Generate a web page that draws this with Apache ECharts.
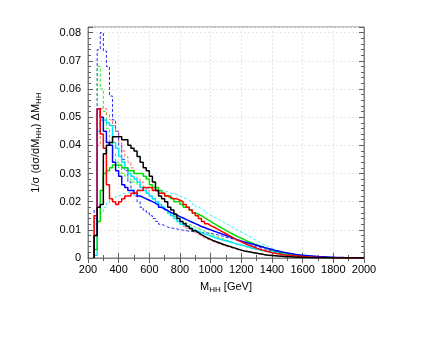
<!DOCTYPE html>
<html><head><meta charset="utf-8">
<script src="https://cdn.jsdelivr.net/npm/echarts@6/dist/echarts.min.js"></script>
<style>html,body{margin:0;padding:0;background:#fff}#c{width:436px;height:337px}</style>
</head><body><div id="c"></div>
<script>
// Histogram bins: lower edge 240 GeV, width 20 GeV, 88 bins up to 2000 GeV
const binStart = 240;
const binWidth = 20;
const xTicks = [200,400,600,800,1000,1200,1400,1600,1800,2000];
const yTicks = [0,0.01,0.02,0.03,0.04,0.05,0.06,0.07,0.08];

const blackSolid = [
0.008,0.018,0.019,0.037,0.040,0.041,0.043,0.043,0.043,0.042,
0.042,0.040,0.039,0.038,0.036,0.034,0.032,0.031,0.029,0.027,
0.024,0.022,0.021,0.020,0.018,0.017,0.0155,0.014,0.013,0.0122,
0.0113,0.0105,0.0097,0.009,0.0083,0.0077,0.0071,0.0066,0.0061,0.0057,
0.0053,0.0049,0.0045,0.0042,0.0038,0.0035,0.0031,0.0028,0.0025,0.0023,
0.0021,0.0019,0.0017,0.0015,0.0013,0.0011,0.001,0.0009,0.0008,0.0007,
0.0006,0.0005,0.00045,0.0004,0.00035,0.0003,0.00025,0.0002,0.0002,0.00015,
0.00012,0.0001,0.0001,0.00008,0.00007,0.00006,0.00005,0.00004,0.00003,0.00003,
0.00002,0.00002,0.00002,0.00001,0.00001,0.00001,0.00001,0];

const redSolid = [
0.015,0.053,0.044,0.039,0.026,0.021,0.020,0.019,0.020,0.021,
0.022,0.022,0.023,0.023,0.024,0.024,0.025,0.025,0.025,0.024,
0.024,0.023,0.023,0.022,0.0215,0.021,0.021,0.0205,0.020,0.019,
0.018,0.017,0.016,0.015,0.014,0.013,0.0122,0.0115,0.011,0.0104,
0.0098,0.0092,0.0086,0.008,0.0074,0.0068,0.0062,0.0057,0.0052,0.0047,
0.0043,0.0039,0.0035,0.0031,0.0028,0.0025,0.0022,0.0019,0.0017,0.0015,
0.0013,0.0011,0.001,0.0009,0.0008,0.0007,0.0006,0.0005,0.0004,0.00035,
0.0003,0.00025,0.0002,0.00018,0.00015,0.00012,0.0001,0.0001,0.00008,0.00006,
0.00005,0.00004,0.00004,0.00003,0.00002,0.00002,0.00001,0.00001];

const greenSolid = [
0.003,0.013,0.024,0.030,0.031,0.032,0.033,0.033,0.033,0.032,
0.032,0.031,0.031,0.030,0.030,0.030,0.029,0.028,0.026,0.025,
0.025,0.024,0.023,0.022,0.022,0.021,0.020,0.020,0.019,0.018,
0.018,0.017,0.016,0.0155,0.015,0.0143,0.0136,0.013,0.0123,0.0117,
0.011,0.0104,0.0098,0.0092,0.0086,0.008,0.0075,0.007,0.0065,0.006,
0.0055,0.0051,0.0047,0.0043,0.0039,0.0035,0.0032,0.0029,0.0026,0.0023,
0.002,0.0018,0.0016,0.0014,0.0012,0.001,0.0009,0.0008,0.0007,0.0006,
0.0005,0.0004,0.00035,0.0003,0.00025,0.0002,0.00017,0.00014,0.00012,0.0001,
0.00008,0.00007,0.00006,0.00005,0.00004,0.00003,0.00002,0.00002];

const blueSolid = [
0.008,0.053,0.050,0.045,0.041,0.040,0.034,0.031,0.029,0.026,
0.025,0.024,0.024,0.023,0.022,0.0215,0.021,0.0205,0.020,0.0195,
0.0188,0.018,0.0174,0.0168,0.0162,0.0157,0.0152,0.0147,0.0142,0.0137,
0.0132,0.0127,0.0122,0.0117,0.0112,0.0108,0.0104,0.01,0.0096,0.0092,
0.0088,0.0084,0.008,0.0076,0.0072,0.0068,0.0064,0.006,0.0057,0.0054,
0.0051,0.0048,0.0045,0.0042,0.0039,0.0036,0.0033,0.003,0.0027,0.0025,
0.0022,0.002,0.0018,0.0016,0.0014,0.0012,0.0011,0.001,0.0009,0.0008,
0.0007,0.0006,0.0005,0.00045,0.0004,0.00035,0.0003,0.00025,0.0002,0.00018,
0.00015,0.00012,0.0001,0.00008,0.00006,0.00005,0.00004,0.00003];

const cyanSolid = [
0.001,0.045,0.049,0.049,0.048,0.047,0.041,0.039,0.036,0.034,
0.032,0.030,0.029,0.028,0.027,0.025,0.024,0.023,0.022,0.021,
0.020,0.019,0.018,0.017,0.016,0.015,0.014,0.013,0.012,0.0115,
0.011,0.0105,0.010,0.0095,0.009,0.0086,0.0082,0.0078,0.0074,0.007,
0.0067,0.0064,0.0061,0.0058,0.0055,0.0052,0.0049,0.0046,0.0043,0.004,
0.0037,0.0034,0.0032,0.003,0.0027,0.0025,0.0023,0.0021,0.0019,0.0017,
0.0015,0.0013,0.0012,0.001,0.0009,0.0008,0.0007,0.0006,0.0005,0.0004,
0.00035,0.0003,0.00025,0.0002,0.00018,0.00015,0.00012,0.0001,0.00008,0.00006,
0.00005,0.00004,0.00003,0.00003,0.00002,0.00002,0.00001,0.00001];

const cyanDashed = [
0.015,0.016,0.016,0.018,0.0195,0.0205,0.021,0.022,0.0225,0.023,
0.023,0.0235,0.024,0.024,0.0245,0.0245,0.025,0.0245,0.0245,0.024,
0.024,0.024,0.0235,0.0235,0.023,0.023,0.0225,0.022,0.0215,0.021,
0.0205,0.0198,0.019,0.0182,0.0175,0.0168,0.016,0.0153,0.0146,0.014,
0.0134,0.0128,0.0122,0.0116,0.011,0.0104,0.0098,0.0092,0.0086,0.008,
0.0074,0.0068,0.0062,0.0056,0.005,0.0045,0.004,0.0035,0.003,0.0026,
0.0022,0.0019,0.0016,0.0013,0.0011,0.0009,0.0008,0.0007,0.0006,0.0005,
0.0004,0.00035,0.0003,0.00025,0.0002,0.00018,0.00015,0.00012,0.0001,0.00008,
0.00007,0.00006,0.00005,0.00004,0.00003,0.00002,0.00002,0.00001];

const greenDashed = [
0.014,0.068,0.060,0.052,0.046,0.041,0.037,0.034,0.032,0.030,
0.029,0.028,0.027,0.027,0.026,0.025,0.024,0.023,0.022,0.021,
0.020,0.019,0.018,0.017,0.016,0.015,0.0145,0.014,0.013,0.0125,
0.012,0.0115,0.011,0.0105,0.010,0.0095,0.009,0.0085,0.008,0.0076,
0.0072,0.0068,0.0064,0.006,0.0056,0.0052,0.0048,0.0045,0.0042,0.0039,
0.0036,0.0033,0.003,0.0027,0.0025,0.0023,0.0021,0.0019,0.0017,0.0015,
0.0013,0.0011,0.001,0.0009,0.0008,0.0007,0.0006,0.0005,0.0004,0.00035,
0.0003,0.00025,0.0002,0.00018,0.00015,0.00012,0.0001,0.00008,0.00006,0.00005,
0.00004,0.00003,0.00003,0.00002,0.00002,0.00001,0.00001,0];

const redDashed = [
0.012,0.040,0.053,0.053,0.051,0.049,0.047,0.045,0.041,0.038,
0.036,0.034,0.032,0.030,0.028,0.027,0.025,0.024,0.022,0.021,
0.020,0.019,0.018,0.017,0.016,0.015,0.014,0.013,0.012,0.0112,
0.0104,0.0097,0.009,0.0084,0.0078,0.0072,0.0067,0.0062,0.0058,0.0054,
0.005,0.0046,0.0042,0.0039,0.0036,0.0033,0.003,0.0027,0.0025,0.0023,
0.0021,0.0019,0.0017,0.0015,0.0013,0.0012,0.0011,0.001,0.0009,0.0008,
0.0007,0.0006,0.0005,0.00045,0.0004,0.00035,0.0003,0.00025,0.0002,0.00018,
0.00015,0.00012,0.0001,0.00009,0.00008,0.00007,0.00006,0.00005,0.00004,0.00003,
0.00003,0.00002,0.00002,0.00002,0.00001,0.00001,0.00001,0];

const blueDashed = [
0.017,0.074,0.080,0.0735,0.068,0.0575,0.049,0.045,0.040,0.035,
0.031,0.027,0.024,0.022,0.020,0.018,0.017,0.016,0.015,0.014,
0.013,0.012,0.0115,0.011,0.0107,0.0105,0.0103,0.0101,0.0099,0.0097,
0.0095,0.0094,0.0093,0.0092,0.0091,0.009,0.0089,0.0087,0.0085,0.0083,
0.008,0.0077,0.0074,0.0071,0.0068,0.0065,0.0062,0.0058,0.0054,0.005,
0.0046,0.0043,0.004,0.0037,0.0034,0.0031,0.0028,0.0025,0.0022,0.002,
0.0018,0.0016,0.0014,0.0012,0.001,0.0009,0.0008,0.0007,0.0006,0.0005,
0.00045,0.0004,0.00035,0.0003,0.00025,0.0002,0.00018,0.00015,0.00012,0.0001,
0.00008,0.00007,0.00006,0.00005,0.00004,0.00003,0.00002,0.00001];

function histPoints(vals) {
  const pts = [[binStart, 0]];
  for (let i = 0; i < vals.length; i++) pts.push([binStart + i * binWidth, vals[i]]);
  pts.push([binStart + vals.length * binWidth, vals[vals.length - 1]]);
  return pts;
}
function mk(name, vals, color, width, dashed) {
  return {
    name: name, type: 'line', step: 'end', symbol: 'none', silent: true,
    data: histPoints(vals),
    lineStyle: { color: color, width: width, type: dashed ? [3, 2] : 'solid' },
    xAxisIndex: 0, yAxisIndex: 0
  };
}

const font = 'Liberation Sans, Arial, sans-serif';
const chart = echarts.init(document.getElementById('c'), null, { renderer: 'canvas' });
const tickFmtY = v => {
  const r = Math.round(v * 100) / 100;
  if (Math.abs(v - r) > 1e-9 || yTicks.indexOf(r) < 0) return '';
  return r === 0 ? '0' : r.toFixed(2);
};
const axLine = { show: true, lineStyle: { color: '#808080', width: 1 } };
const axTick = { show: true, inside: true, length: 5, lineStyle: { color: '#606060' } };
const gridLine = { show: true, lineStyle: { color: '#e6e6e6', type: [2, 2], width: 1 } };
chart.setOption({
  animation: false,
  grid: { left: 88, right: 72, top: 27, bottom: 79, show: true, borderColor: '#808080', borderWidth: 1 },
  xAxis: [
    {
      type: 'value', min: 200, max: 2000, interval: 200, position: 'bottom',
      axisLine: axLine, axisTick: axTick,
      minorTick: { show: true, splitNumber: 2, length: 3, lineStyle: { color: '#606060' } },
      axisLabel: { color: '#000', fontFamily: font, fontSize: 11, margin: 6,
        formatter: v => xTicks.indexOf(v) >= 0 ? String(v) : '' },
      splitLine: gridLine,
      name: 'M{s|HH} [GeV]', nameLocation: 'middle', nameGap: 22,
      nameTextStyle: { color: '#000', fontFamily: font, fontSize: 11,
        rich: { s: { fontSize: 8, fontFamily: font, color: '#000', padding: [6, 0, 0, 0] } } }
    },
    {
      type: 'value', min: 200, max: 2000, interval: 200, position: 'top',
      axisLine: axLine, axisTick: axTick,
      minorTick: { show: true, splitNumber: 2, length: 3, lineStyle: { color: '#606060' } },
      axisLabel: { show: false }, splitLine: { show: false }
    }
  ],
  yAxis: [
    {
      type: 'value', min: 0, max: 0.082, interval: 0.01, position: 'left',
      axisLine: axLine, axisTick: axTick,
      minorTick: { show: true, splitNumber: 5, length: 3, lineStyle: { color: '#606060' } },
      axisLabel: { color: '#000', fontFamily: font, fontSize: 11, margin: 7, showMaxLabel: false, formatter: tickFmtY },
      splitLine: gridLine,
      name: '1/σ (dσ/dM{s|HH}) ΔM{s|HH}', nameLocation: 'middle', nameGap: 45, nameRotate: 90,
      nameTextStyle: { color: '#000', fontFamily: font, fontSize: 11,
        rich: { s: { fontSize: 8, fontFamily: font, color: '#000', padding: [6, 0, 0, 0] } } }
    },
    {
      type: 'value', min: 0, max: 0.082, interval: 0.01, position: 'right',
      axisLine: axLine, axisTick: axTick,
      minorTick: { show: true, splitNumber: 5, length: 3, lineStyle: { color: '#606060' } },
      axisLabel: { show: false }, splitLine: { show: false }
    }
  ],
  series: [
    mk('blue dashed', blueDashed, '#2a2aff', 1, true),
    mk('green dashed', greenDashed, '#22ee22', 1, true),
    mk('red dashed', redDashed, '#ff6666', 1, true),
    mk('cyan dashed', cyanDashed, '#33eeff', 1, true),
    mk('cyan', cyanSolid, '#00e5ff', 1.5, false),
    mk('green', greenSolid, '#00e000', 1.5, false),
    mk('blue', blueSolid, '#0000ff', 1.5, false),
    mk('red', redSolid, '#ff0000', 1.5, false),
    mk('black', blackSolid, '#000000', 1.5, false)
  ]
});
</script></body></html>
